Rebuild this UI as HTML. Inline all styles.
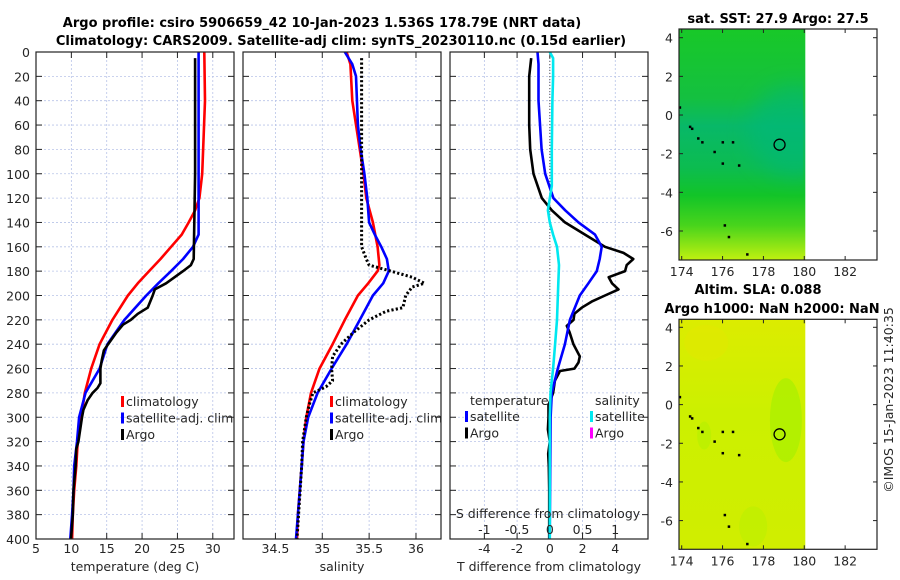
<!DOCTYPE html>
<html><head><meta charset="utf-8"><style>
body{margin:0;background:#fff;}
svg{display:block;font-family:"DejaVu Sans","Liberation Sans",sans-serif;}
.t{font-size:12.5px;fill:#262626;}
.b{font-size:13px;font-weight:bold;fill:#000;}
</style></head><body>
<svg id="c" width="900" height="580" viewBox="0 0 900 580">
<defs>
<linearGradient id="g1" x1="0" y1="0" x2="0" y2="1">
<stop offset="0" stop-color="#18c828"/><stop offset="0.3" stop-color="#14c040"/><stop offset="0.42" stop-color="#08b868"/><stop offset="0.6" stop-color="#0cbc50"/><stop offset="0.72" stop-color="#12c428"/><stop offset="0.85" stop-color="#48d41c"/><stop offset="1" stop-color="#c0f010"/>
</linearGradient>
<linearGradient id="g2" x1="0" y1="0" x2="0" y2="1">
<stop offset="0" stop-color="#dcec00"/><stop offset="0.4" stop-color="#ccf000"/><stop offset="1" stop-color="#d0ee00"/>
</linearGradient>
<filter id="blur" x="-50%" y="-50%" width="200%" height="200%"><feGaussianBlur stdDeviation="10"/></filter>
<clipPath id="clip1"><rect x="679" y="29" width="124" height="231"/></clipPath>
</defs>
<text class="b" x="322" y="27" text-anchor="middle">Argo profile: csiro 5906659_42 10-Jan-2023 1.536S 178.79E (NRT data)</text>
<text class="b" x="341" y="45" text-anchor="middle">Climatology: CARS2009. Satellite-adj clim: synTS_20230110.nc (0.15d earlier)</text>
<g id="plots"></g>
<text class="t" x="0" y="0" transform="translate(893,400) rotate(-90)" text-anchor="middle">©IMOS 15-Jan-2023 11:40:35</text>
</svg>
<script>
// ---- data ----
const depthTicks=[0,20,40,60,80,100,120,140,160,180,200,220,240,260,280,300,320,340,360,380,400];
const tempTicks=[5,10,15,20,25,30];
const salTicks=[34.5,35,35.5,36];
const tdiffTicks=[-4,-2,0,2,4];
const sdiffTickLabels=["-1","-0.5","0","0.5","1"];
const sdiffTicks=[-1,-0.5,0,0.5,1];
// temperature profiles
const tempClimDepth=[0,40,100,120,130,140,150,160,170,180,190,200,220,240,260,280,300,320,340,360,380,400];
const tempClimVal=[28.8,28.9,28.5,28.1,27.5,26.6,25.6,24.1,22.6,21.0,19.4,18.0,15.8,14.0,12.8,11.9,11.4,10.9,10.7,10.4,10.2,10.1];
const tempSatDepth=[0,150,160,170,180,190,200,220,240,260,280,300,320,340,360,380,400];
const tempSatVal=[28.0,28.0,27.2,25.8,24.1,22.3,20.6,17.5,15.1,14.0,12.0,11.1,10.8,10.4,10.3,10.1,9.85];
const tempArgoDepth=[5,100,170,175,180,190,195,200,210,215,220,224,231,240,245,253,260,272,276,280,286,294,300,320,326,340,360,380,400];
const tempArgoVal=[27.5,27.5,27.3,26.9,25.8,23.4,21.8,21.5,20.8,19.4,18.4,17.3,16.3,15.2,14.6,14.3,14.1,14.1,13.7,13.0,12.3,11.7,11.5,11.0,10.7,10.6,10.3,10.2,9.95];
// salinity profiles
const salClimDepth=[0,10,40,80,100,120,140,160,175,180,190,200,220,240,260,280,300,320,340,360,380,400];
const salClimVal=[35.26,35.30,35.32,35.40,35.44,35.47,35.54,35.59,35.61,35.59,35.49,35.38,35.24,35.11,34.97,34.88,34.83,34.80,34.78,34.76,34.74,34.73];
const salSatDepth=[0,10,20,60,80,100,120,140,150,160,170,180,190,200,220,240,260,280,300,320,340,360,380,400];
const salSatVal=[35.24,35.32,35.36,35.38,35.41,35.45,35.48,35.50,35.56,35.63,35.69,35.71,35.65,35.54,35.40,35.26,35.10,34.95,34.85,34.80,34.78,34.76,34.74,34.72];
const salArgoDepth=[5,160,170,175,180,185,190,193,200,210,213,220,230,240,250,260,270,275,280,290,300,320,340,400];
const salArgoVal=[35.42,35.42,35.47,35.50,35.73,35.96,36.09,35.96,35.89,35.86,35.68,35.50,35.34,35.20,35.11,35.10,35.11,35.04,34.90,34.86,34.83,34.79,34.78,34.73];
// difference profiles
const dTArgoDepth=[5,20,60,80,100,120,130,140,150,160,165,170,175,180,185,190,195,200,205,210,215,220,225,230,240,250,255,260,262,270,280,290,300,310,320,330,340,360,400];
const dTArgoVal=[-1.14,-1.26,-1.26,-1.2,-1.0,-0.49,0.12,0.93,2.15,3.37,4.5,5.1,4.7,4.6,3.6,3.8,4.2,3.37,2.56,1.95,1.5,1.45,1.04,1.2,1.44,1.83,1.75,1.5,0.62,0.31,0.2,-0.08,-0.08,-0.12,0,-0.1,-0.06,-0.04,-0.04];
const dTSatDepth=[0,10,40,80,100,120,130,140,150,160,170,180,190,200,220,240,260,280,300,400];
const dTSatVal=[-0.75,-0.69,-0.69,-0.5,-0.28,0.22,0.94,1.75,2.76,3.17,3.05,2.87,2.36,1.83,1.23,0.92,0.49,0.12,0.05,-0.01];
const dSSatDepth=[0,5,20,40,80,110,120,130,140,150,160,175,190,220,240,260,280,300,400];
const dSSatVal=[0,0.05,0.05,0.04,0.03,0.03,0,-0.03,0,0.05,0.11,0.14,0.13,0.11,0.08,0.05,0.01,0,0];
// maps
const lonTicks=[174,176,178,180,182];
const latTicks=[4,2,0,-2,-4,-6];
const argoLon=178.79, argoLat=-1.536;
const islandLon=[173.9,174.4,174.5,174.8,175.0,175.6,176.0,176.5,176.0,176.8,176.1,176.3,177.2];
const islandLat=[0.4,-0.6,-0.7,-1.2,-1.4,-1.9,-1.4,-1.4,-2.5,-2.6,-5.7,-6.3,-7.2];

// ---- helpers ----
const NS="http://www.w3.org/2000/svg";
const root=document.getElementById('plots');
function mk(tag,attrs,parent){const e=document.createElementNS(NS,tag);for(const k in attrs)e.setAttribute(k,attrs[k]);(parent||root).appendChild(e);return e;}
const yTop=52,yBot=539;
function yD(d){return yTop+(yBot-yTop)*d/400;}

function panel(name,x0,x1,xmin,xmax,gridVals,tickLabels,xlabel,showY){
  const g=mk('g',{});
  
  
  const sx=v=>x0+(v-xmin)/(xmax-xmin)*(x1-x0);
  mk('rect',{x:x0,y:yTop,width:x1-x0,height:yBot-yTop,fill:'#fff'},g);
  depthTicks.forEach(d=>{
    const y=yD(d);
    if(d>0&&d<400){const l=mk('line',{x1:x0,x2:x1,y1:y,y2:y,stroke:'#b8c4e8','stroke-width':0.8,'stroke-dasharray':'2,2'},g);
      }
    mk('line',{x1:x0,x2:x0+6,y1:y,y2:y,stroke:'#222'},g);
    mk('line',{x1:x1-6,x2:x1,y1:y,y2:y,stroke:'#222'},g);
    if(showY){const t=mk('text',{x:x0-6,y:y+5,'text-anchor':'end',class:'t'},g);t.textContent=d;
      }
  });
  gridVals.forEach((v,i)=>{
    const x=sx(v);
    if(x>x0+1&&x<x1-1){const l=mk('line',{x1:x,x2:x,y1:yTop,y2:yBot,stroke:'#b8c4e8','stroke-width':0.8,'stroke-dasharray':'2,2'},g);
      }
    mk('line',{x1:x,x2:x,y1:yBot,y2:yBot-6,stroke:'#222'},g);
    mk('line',{x1:x,x2:x,y1:yTop,y2:yTop+6,stroke:'#222'},g);
    const t=mk('text',{x:x,y:553,'text-anchor':'middle',class:'t'},g);t.textContent=tickLabels[i];
    
  });
  const xl=mk('text',{x:(x0+x1)/2,y:571,'text-anchor':'middle',class:'t'},g);xl.textContent=xlabel;
  
  return {g,sx};
}
function series(P,depths,vals,color,name,dash,w){
  const pts=depths.map((d,i)=>P.sx(vals[i]).toFixed(1)+','+yD(d).toFixed(1)).join(' ');
  const a={points:pts,fill:'none',stroke:color,'stroke-width':w||2.6,'stroke-linejoin':'round'};
  if(dash)a['stroke-dasharray']=dash;
  const p=mk('polyline',a,P.g);
  
  
}
function frame(P,x0,x1){mk('rect',{x:x0,y:yTop,width:x1-x0,height:yBot-yTop,fill:'none',stroke:'#222','stroke-width':1.2},P.g);}
function legend(g,x,y,items){
  items.forEach((it,i)=>{
    const yy=y+i*16.5;
    const m=mk('rect',{x:x,y:yy-10,width:3,height:11,fill:it[1]},g);
    
    const t=mk('text',{x:x+5,y:yy,class:'t'},g);t.textContent=it[0];
    
  });
}

// panel 1 temperature
const P1=panel('temperature-panel',36,234,5,33.0,tempTicks,tempTicks.map(String),'temperature (deg C)',true);
series(P1,tempClimDepth,tempClimVal,'#ff0000','temp-climatology-line');
series(P1,tempSatDepth,tempSatVal,'#0000ff','temp-satellite-line');
series(P1,tempArgoDepth,tempArgoVal,'#000','temp-argo-line');
legend(P1.g,121,406,[['climatology','#ff0000'],['satellite-adj. clim','#0000ff'],['Argo','#000']]);
frame(P1,36,234);

// panel 2 salinity
const P2=panel('salinity-panel',243,441,34.154,36.267,salTicks,salTicks.map(String),'salinity',false);
series(P2,salClimDepth,salClimVal,'#ff0000','sal-climatology-line');
series(P2,salSatDepth,salSatVal,'#0000ff','sal-satellite-line');
series(P2,salArgoDepth,salArgoVal,'#000','sal-argo-line','2.2,2.2',3);
legend(P2.g,330,406,[['climatology','#ff0000'],['satellite-adj. clim','#0000ff'],['Argo','#000']]);
frame(P2,243,441);

// panel 3 differences
const P3=panel('difference-panel',450,648,-6.1,6.0,tdiffTicks,tdiffTicks.map(String),'T difference from climatology',false);
const z=P3.sx(0);
const zl=mk('line',{x1:z,x2:z,y1:yTop,y2:yBot,stroke:'#555','stroke-width':1,'stroke-dasharray':'1,2'},P3.g);

series(P3,dTArgoDepth,dTArgoVal,'#000','tdiff-argo-line');
series(P3,dTSatDepth,dTSatVal,'#0000ff','tdiff-satellite-line');
series(P3,dSSatDepth,dSSatVal.map(v=>v*4),'#00e8f0','sdiff-satellite-line');
{const t=mk('text',{x:470,y:405,class:'t'},P3.g);t.textContent='temperature';
 const t2=mk('text',{x:595,y:405,class:'t'},P3.g);t2.textContent='salinity';}
legend(P3.g,465,421,[['satellite','#0000ff'],['Argo','#000']]);
legend(P3.g,590,421,[['satellite','#00e8f0'],['Argo','#ff00ff']]);
{const t=mk('text',{x:548,y:518,'text-anchor':'middle',class:'t'},P3.g);t.textContent='S difference from climatology';
 
 sdiffTicks.forEach((v,i)=>{const s=mk('text',{x:P3.sx(v*4),y:534,'text-anchor':'middle',class:'t'},P3.g);s.textContent=sdiffTickLabels[i];
  });}
frame(P3,450,648);

// maps
function map(name,y0,y1,lat4y,fill,patches,title){
  const g=mk('g',{});
  
  
  const x0=679,x1=877;
  const sx=l=>681.7+(l-174)*20.43;
  const sy=la=>lat4y+(4-la)*19.33;
  mk('rect',{x:x0,y:y0,width:sx(180.05)-x0,height:y1-y0,fill:fill},g);
  patches(g,sx,sy);
  islandLon.forEach((lo,i)=>{const d=mk('rect',{x:sx(lo)-1,y:sy(islandLat[i])-1,width:2.5,height:2.5,fill:'#000'},g);
    });
  const c=mk('ellipse',{cx:sx(argoLon),cy:sy(argoLat),rx:5.5,ry:5.5,fill:'none',stroke:'#000','stroke-width':1.3},g);
  
  mk('rect',{x:x0,y:y0,width:x1-x0,height:y1-y0,fill:'none',stroke:'#222','stroke-width':1.2},g);
  latTicks.forEach(la=>{const y=sy(la);mk('line',{x1:x0,x2:x0+4,y1:y,y2:y,stroke:'#222'},g);mk('line',{x1:x1-4,x2:x1,y1:y,y2:y,stroke:'#222'},g);
    const t=mk('text',{x:x0-6,y:y+5,'text-anchor':'end',class:'t'},g);t.textContent=la;
    });
  lonTicks.forEach(lo=>{const x=sx(lo);mk('line',{x1:x,x2:x,y1:y1,y2:y1-4,stroke:'#222'},g);mk('line',{x1:x,x2:x,y1:y0,y2:y0+4,stroke:'#222'},g);
    const t=mk('text',{x:x,y:y1+16,'text-anchor':'middle',class:'t'},g);t.textContent=lo;
    });
  title.forEach((s,i)=>{const t=mk('text',{x:s[1],y:s[2],'text-anchor':'middle',class:'b'},g);t.textContent=s[0];
    });
}
map('sst-map',29,260,37.7,'url(#g1)',(g,sx,sy)=>{
  const cg=mk('g',{'clip-path':'url(#clip1)'},g);
  mk('ellipse',{cx:sx(179.5),cy:sy(-0.8),rx:45,ry:45,fill:'#00b87c','fill-opacity':0.6,filter:'url(#blur)'},cg);
},[['sat. SST: 27.9 Argo: 27.5',778,23]]);
map('sla-map',319.3,549.3,327.3,'url(#g2)',(g,sx,sy)=>{
  mk('ellipse',{cx:sx(179.1),cy:sy(-0.8),rx:16,ry:42,fill:'#a8f000','fill-opacity':0.7},g);
  mk('ellipse',{cx:sx(175.1),cy:sy(-1.6),rx:7,ry:14,fill:'#b4f000','fill-opacity':0.6},g);
  mk('ellipse',{cx:sx(177.5),cy:sy(-6.3),rx:14,ry:20,fill:'#b8f000','fill-opacity':0.5},g);
  mk('ellipse',{cx:sx(175.2),cy:sy(3.2),rx:22,ry:18,fill:'#e6e600','fill-opacity':0.4},g);
},[['Altim. SLA: 0.088',758,294],['Argo h1000: NaN h2000: NaN',772,313]]);
</script>
</body></html>
